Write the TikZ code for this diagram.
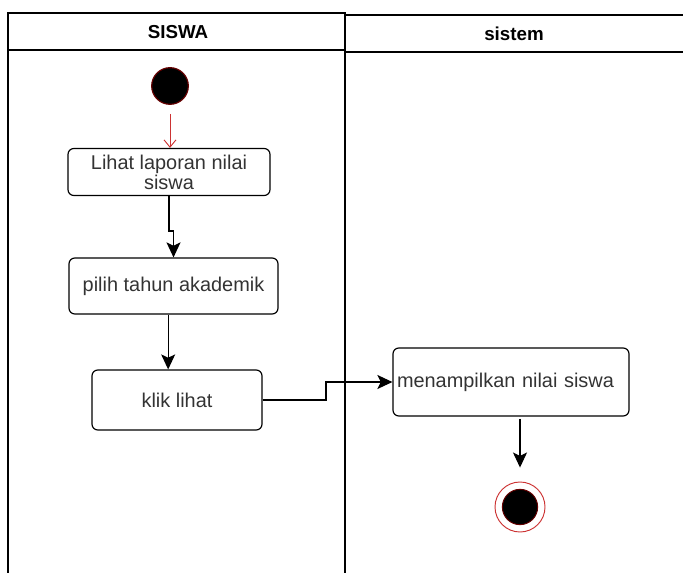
\documentclass[tikz,border=0pt]{standalone}
\usepackage{fontspec}
\setmainfont{Liberation Sans}
\usetikzlibrary{arrows.meta}

\begin{document}
\begin{tikzpicture}[x=0.03cm,y=-0.03cm]
    \definecolor{DarkRed}{HTML}{660000}
    \definecolor{EdgeRed}{HTML}{cc3333}
    \definecolor{TextGray}{HTML}{333333}
    \tikzset{
        lane/.style={line width=1pt},
        head/.style={font=\bfseries\fontsize{16}{18}\selectfont},
        act/.style={draw, line width=1pt, rounded corners=5pt, text=TextGray,
            font=\fontsize{17}{17}\selectfont, align=center},
        flow/.style={line width=1pt, -{Stealth[length=0.45cm,width=0.42cm,inset=0.1cm]}},
        redflow/.style={draw=EdgeRed, line width=0.8pt, -{Straight Barb[length=0.22cm,width=0.36cm]}}
    }
    \useasboundingbox (0,0) rectangle (683,573);
    % swimlanes
    \draw[lane] (8,573) -- (8,13) -- (345,13) -- (345,573);
    \draw[lane] (8,50) -- (345,50);
    \draw[lane] (345,15) -- (683,15) (345,52) -- (683,52);
    \node[head] (siswa) at (178,32) {SISWA};
    \node[head] (sistem) at (514,34) {sistem};
    % actions
    \node[circle, fill=black, draw=DarkRed, line width=1pt, minimum size=1.1cm, inner sep=0] (start) at (170,86) {};
    \node[act, minimum width=6.06cm, minimum height=1.41cm] (lihat) at (169,172) {Lihat laporan nilai\\siswa};
    \node[act, minimum width=6.27cm, minimum height=1.68cm] (pilih) at (173.5,286) {pilih tahun akademik};
    \node[act, minimum width=5.1cm, minimum height=1.8cm] (klik) at (177,400) {klik lihat};
    \node[act, align=left, text width=6.84cm, inner xsep=0.12cm, minimum height=2.04cm] (tampil) at (511,382) {menampilkan nilai siswa};
    \node[circle, draw=EdgeRed, line width=0.8pt, minimum size=1.5cm, inner sep=0] (stop) at (520,507) {};
    \fill[black, draw=DarkRed, line width=0.8pt] (stop.center) circle[radius=0.53cm];
    \coordinate (bend) at (326,0);
    % flows
    \draw[redflow, shorten <=0.27cm] (start) -- (start |- lihat.north);
    \draw[flow] (lihat.south) -- ++(0,35) -| (pilih.north);
    \draw[flow] ([xshift=-0.16cm]pilih.south) -- ([xshift=-0.16cm]pilih.south |- klik.north);
    \draw[flow] (klik.east) -| (bend |- tampil.west) -- (tampil.west);
    \draw[flow, shorten <=2pt, shorten >=0.42cm] (tampil.south -| stop) -- (stop);
\end{tikzpicture}
\end{document}
